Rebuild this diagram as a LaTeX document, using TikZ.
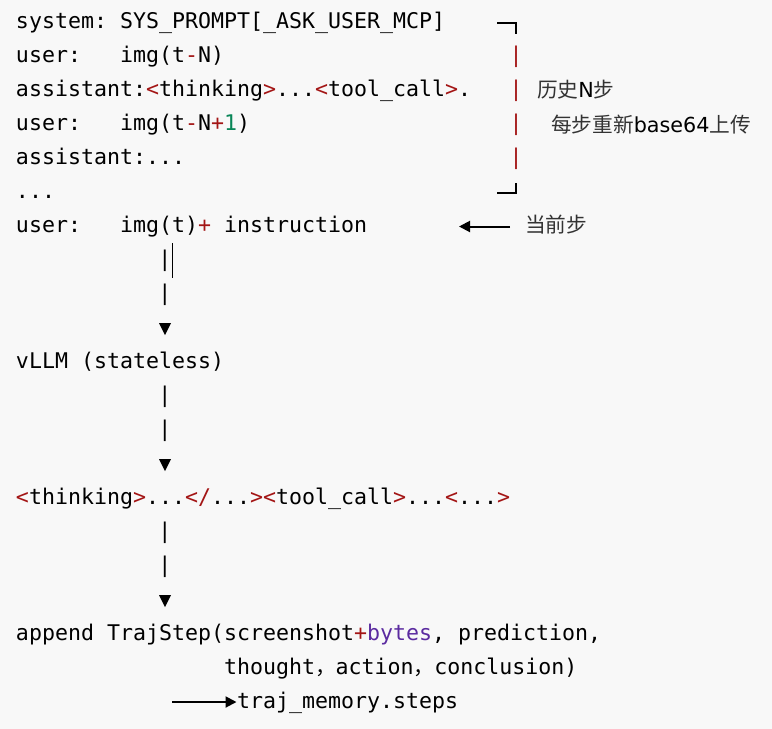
\documentclass[tikz,border=0pt]{standalone}
\usepackage{fontspec}
\usepackage{xcolor}
\usetikzlibrary{arrows.meta}
\newfontfamily\codefont{DejaVu Sans Mono}
\newfontfamily\cjkfont{Noto Sans CJK SC}
\newfontfamily\latnote{DejaVu Sans}
\definecolor{bgcol}{HTML}{F8F8F8}
\definecolor{cred}{HTML}{A31515}
\definecolor{cgreen}{HTML}{098658}
\definecolor{cpurple}{HTML}{5B2BA0}
\definecolor{cgray}{HTML}{333333}
\newcommand\Rd[1]{\textcolor{cred}{#1}}
\newcommand\Gn[1]{\textcolor{cgreen}{#1}}
\newcommand\Pu[1]{\textcolor{cpurple}{#1}}
\newcommand\Lt[1]{{\latnote\color{black}#1}}
\newcommand\Cm{{\cjkfont\fontsize{20.7}{34}\selectfont ，}}
\frenchspacing
\begin{document}
\begin{tikzpicture}[x=1pt,y=-1pt,
  code/.style={anchor=base west,inner sep=0pt,outer sep=0pt,text=black,
    font=\codefont\fontsize{21.6}{34}\selectfont\frenchspacing},
  bar/.style={anchor=base,inner sep=0pt,outer sep=0pt,
    font=\codefont\fontsize{21.6}{34}\selectfont},
  note/.style={anchor=base west,inner sep=0pt,outer sep=0pt,text=cgray,
    font=\cjkfont\fontsize{20.7}{26}\selectfont},
  frame/.style={line width=2pt},
  arr/.style={line width=2pt,-{Triangle[length=11pt,width=11pt]}},
  tri/.style={fill=black}]
\fill[bgcol] (0,0) rectangle (772,729);
\useasboundingbox (0,0) rectangle (772,729);
% code lines
\node[code] (l1) at (16,28.5) {system: SYS\_PROMPT[\_ASK\_USER\_MCP]};
\node[code] (l2) at (16,62.5) {user:\ \ \ img(t\Rd{-}N)};
\node[code] (l3) at (16,96.5) {assistant:\Rd{<}thinking\Rd{>}...\Rd{<}tool\_call\Rd{>}.};
\node[code] (l4) at (16,130.5) {user:\ \ \ img(t\Rd{-}N\Rd{+}\Gn{1})};
\node[code] (l5) at (16,164.5) {assistant:...};
\node[code] (l6) at (16,198.5) {...};
\node[code] (l7) at (16,232.5) {user:\ \ \ img(t)\Rd{+}\ instruction};
\node[code] (l11) at (16,368.5) {vLLM (stateless)};
\node[code] (l15) at (16,504.5) {\Rd{<}thinking\Rd{>}...\Rd{</}...\Rd{>}\Rd{<}tool\_call\Rd{>}...\Rd{<}...\Rd{>}};
\node[code] (l19) at (16,640.5) {append TrajStep(screenshot\Rd{+}\Pu{bytes}, prediction,};
\node[code] (l20) at (224,674.5) {thought\Cm action\Cm conclusion)};
\node[code] (traj) at (237,708.5) {traj\_memory.steps};
% history bracket
\draw[frame] (497,23.3) -- (516.3,23.3) -- (516.3,34);
\draw[frame] (516.3,183.3) -- (516.3,193.3) -- (497,193.3);
\foreach \yy/\nm in {62.5/b2,96.5/b3,130.5/b4,164.5/b5}
  \node[bar,text=cred] (\nm) at (516,\yy) {|};
\node[note] (hist) at (537,97.5) {历史\Lt{N}步};
\node[note] (b64) at (551,132) {每步重新\Lt{base64}上传};
% current step
\node[note] (cur) at (525,232.5) {当前步};
\coordinate (curtail) at (510,226.5);
\coordinate (curtip) at (459,226.5);
\draw[arr] (curtail) -- (curtip);
% flow bars
\foreach \yy/\nm in {266.5/v8,300.5/v9,402.5/v12,436.5/v13,538.5/v16,572.5/v17}
  \node[bar] (\nm) at (165,\yy) {|};
\draw[line width=1pt] (172,243) -- (172,278);
\foreach \yy in {0,136,272}
  \fill[tri] (159,323+\yy) -- (171,323+\yy) -- (165,335+\yy) -- cycle;
% traj arrow
\coordinate (trajtail) at (172,702);
\coordinate (trajtip) at (236.5,702);
\draw[arr] (trajtail) -- (trajtip);
\end{tikzpicture}
\end{document}
